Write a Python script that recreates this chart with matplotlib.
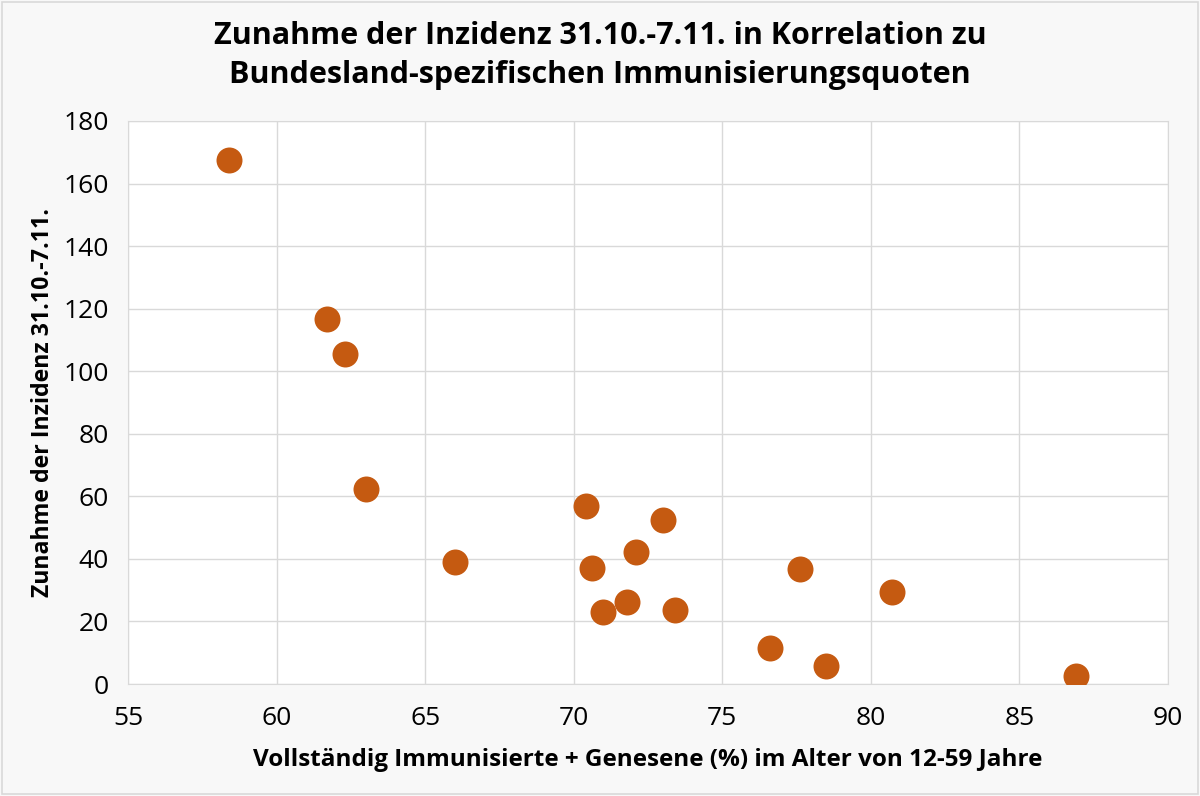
import matplotlib.pyplot as plt
from matplotlib.patches import Rectangle

# Vollständig immunisierte + genesene (%) 12-59 J. vs. Zunahme der Inzidenz
immunisiert = [58.4, 61.7, 62.3, 63.0, 66.0, 70.4, 70.6, 71.0, 71.8, 72.1,
               73.0, 73.4, 76.6, 77.6, 78.5, 80.7, 86.9]
zunahme = [167.5, 116.7, 105.5, 62.3, 39.0, 56.9, 37.1, 23.0, 26.2, 42.2,
           52.4, 23.7, 11.5, 36.8, 5.8, 29.4, 2.6]

x_ticks = [55, 60, 65, 70, 75, 80, 85, 90]
y_ticks = [0, 20, 40, 60, 80, 100, 120, 140, 160, 180]

plt.rcParams["font.family"] = ["Open Sans", "DejaVu Sans"]

figure = plt.figure(figsize=(12, 7.96), dpi=100, facecolor="#f8f8f8")
figure.patches.append(Rectangle((0.002, 0.002), 0.996, 0.996, transform=figure.transFigure,
                                fill=False, edgecolor="#d9d9d9", linewidth=1.2))
axis = figure.add_axes([0.1067, 0.1407, 0.8666, 0.7073])
axis.set_facecolor("white")

axis.scatter(immunisiert, zunahme, s=350, color="#c55a11", zorder=3, linewidths=0)

axis.set_xlim(55, 90)
axis.set_ylim(0, 180)
axis.set_xticks(x_ticks)
axis.set_yticks(y_ticks)
axis.tick_params(labelsize=19, length=0, colors="#000000")
axis.tick_params(axis="x", pad=16)
axis.tick_params(axis="y", pad=14)
axis.grid(True, color="#d9d9d9", linewidth=1)
for spine in axis.spines.values():
    spine.set_color("#d9d9d9")

axis.set_xlabel("Vollständig Immunisierte + Genesene (%) im Alter von 12-59 Jahre",
                fontsize=17.5, fontweight="bold", labelpad=12)
axis.set_ylabel("Zunahme der Inzidenz 31.10.-7.11.", fontsize=16.7, fontweight="bold",
                labelpad=6)
figure.suptitle("Zunahme der Inzidenz 31.10.-7.11. in Korrelation zu\n"
                "Bundesland-spezifischen Immunisierungsquoten",
                fontsize=22, fontweight="bold", y=0.973, linespacing=1.35)

figure.savefig("out.png", dpi=100, facecolor=figure.get_facecolor())
plt.close(figure)
